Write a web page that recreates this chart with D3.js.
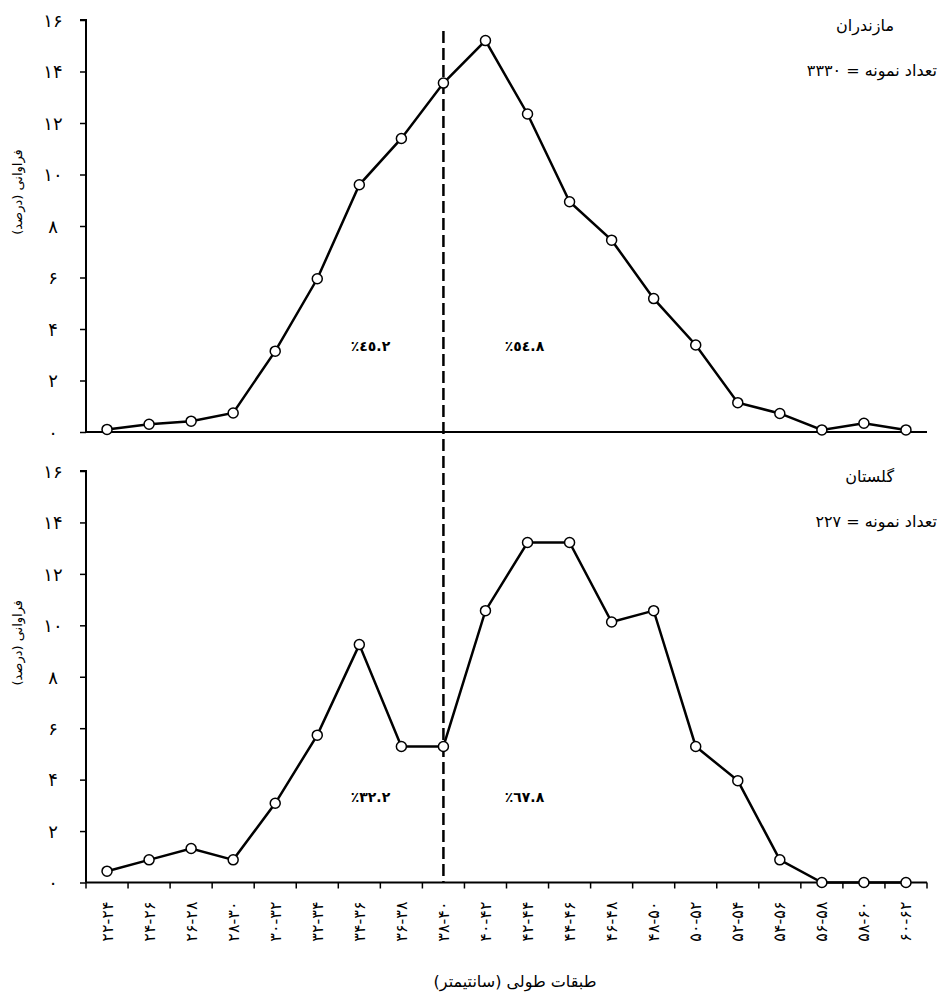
<!DOCTYPE html>
<html>
<head>
<meta charset="utf-8">
<script src="https://cdn.jsdelivr.net/npm/d3@7"></script>
<style>
  html, body { margin: 0; padding: 0; background: #fff; }
  svg { display: block; }
  text { font-family: "DejaVu Serif", "DejaVu Sans", serif; fill: #000; }
</style>
</head>
<body>
<svg id="chart" width="941" height="999"></svg>
<script>
// Length classes (cm), shown with Persian digits
const categories = [
  "۲۲-۲۴", "۲۴-۲۶", "۲۶-۲۸", "۲۸-۳۰", "۳۰-۳۲", "۳۲-۳۴", "۳۴-۳۶", "۳۶-۳۸", "۳۸-۴۰", "۴۰-۴۲",
  "۴۲-۴۴", "۴۴-۴۶", "۴۶-۴۸", "۴۸-۵۰", "۵۰-۵۲", "۵۲-۵۴", "۵۴-۵۶", "۵۶-۵۸", "۵۸-۶۰", "۶۰-۶۲"
];

// Frequency (percent) per length class
const mazandaran = [0.1, 0.3, 0.42, 0.74, 3.14, 5.95, 9.6, 11.4, 13.55, 15.2,
                    12.35, 8.94, 7.45, 5.18, 3.38, 1.14, 0.72, 0.08, 0.34, 0.08];
const golestan   = [0.44, 0.88, 1.32, 0.88, 3.08, 5.73, 9.25, 5.29, 5.29, 10.57,
                    13.22, 13.22, 10.13, 10.57, 5.29, 3.96, 0.88, 0, 0, 0];

const yTicks = [0, 2, 4, 6, 8, 10, 12, 14, 16];
const yTickLabels = ["۰", "۲", "۴", "۶", "۸", "۱۰", "۱۲", "۱۴", "۱۶"];

const regionNames = ["مازندران", "گلستان"];
const sampleSizes = ["۳۳۳۰", "۲۲۷"];
// share of fish below / above the split class, per region
const shareBelow = ["٪٤٥.٢", "٪۳۲.۲"];
const shareAbove = ["٪٥٤.٨", "٪٦٧.٨"];
const splitClass = "۳۸-۴۰";

const yTitle = "فراوانی (درصد)";
const xTitle = "طبقات طولی (سانتیمتر)";

// ---- layout ----
const svg = d3.select("#chart");
const left = 86, right = 927;
const panelsLayout = [
  { top: 20, bottom: 432, showTicks: false },
  { top: 471, bottom: 882.5, showTicks: true }
];
const seriesList = [mazandaran, golestan];

const x = d3.scaleBand().domain(categories).range([left, right]).padding(0);
const cx = d => x(d) + x.bandwidth() / 2;
const splitX = cx(splitClass);

const RLE = "\u202B", PDF = "\u202C", LRO = "\u202D";
const arabicFont = "'DejaVu Sans', sans-serif";

// split line across both panels
svg.append("line")
  .attr("x1", splitX).attr("x2", splitX)
  .attr("y1", 31).attr("y2", 882)
  .attr("stroke", "#000")
  .attr("stroke-width", 2.5)
  .attr("stroke-dasharray", "12,5");

panelsLayout.forEach((p, k) => {
  const values = seriesList[k];
  const y = d3.scaleLinear().domain([0, 16]).range([p.bottom, p.top]);
  const g = svg.append("g");

  // y axis
  const yAxis = d3.axisLeft(y).tickValues(yTicks).tickSize(6)
    .tickFormat((d, i) => yTickLabels[i]);
  const ya = g.append("g").attr("transform", `translate(${left},0)`).call(yAxis);
  ya.select(".domain").attr("stroke", "#000").attr("stroke-width", 2).attr("d", `M-6,${p.top}H0V${p.bottom}`);
  ya.selectAll(".tick line").attr("stroke", "#000").attr("stroke-width", 1.5);
  ya.selectAll(".tick text")
    .attr("x", -33).attr("text-anchor", "middle").attr("dy", "0.35em")
    .style("font-size", "18px").style("font-family", arabicFont);

  // x baseline
  g.append("line")
    .attr("x1", left).attr("x2", right)
    .attr("y1", p.bottom).attr("y2", p.bottom)
    .attr("stroke", "#000").attr("stroke-width", 2);

  if (p.showTicks) {
    const bounds = d3.range(categories.length + 1).map(i => left + i * x.step());
    g.selectAll("line.xtick").data(bounds).join("line")
      .attr("class", "xtick")
      .attr("x1", d => d).attr("x2", d => d)
      .attr("y1", p.bottom).attr("y2", p.bottom + 6)
      .attr("stroke", "#000").attr("stroke-width", 1.5);

    g.selectAll("text.xlab").data(categories).join("text")
      .attr("class", "xlab")
      .attr("transform", d => `translate(${cx(d)},${p.bottom + 19}) rotate(-90)`)
      .attr("text-anchor", "end")
      .attr("dominant-baseline", "central")
      .style("font-size", "16px").style("font-family", arabicFont)
      .style("letter-spacing", "1.5px")
      .text(d => LRO + d + PDF);
  }

  // y axis title
  g.append("text")
    .attr("transform", `translate(17,${(p.top + p.bottom) / 2 - 34}) rotate(-90)`)
    .attr("text-anchor", "middle")
    .attr("dominant-baseline", "central")
    .style("font-size", "13px").style("font-family", arabicFont)
    .text(RLE + yTitle + PDF);

  // region name and sample size
  g.append("text")
    .attr("x", 894).attr("y", p.top + 11)
    .attr("text-anchor", "end")
    .style("font-size", "16px").style("font-family", arabicFont)
    .text(RLE + regionNames[k] + PDF);
  g.append("text")
    .attr("x", 937).attr("y", p.top + 56)
    .attr("text-anchor", "end")
    .style("font-size", "16px").style("font-family", arabicFont)
    .text(RLE + "تعداد نمونه = " + sampleSizes[k] + PDF);

  // share on each side of the split
  g.append("text")
    .attr("x", splitX - 73).attr("y", p.bottom - 81)
    .attr("text-anchor", "middle")
    .style("font-size", "14px").style("font-weight", "bold").style("font-family", arabicFont)
    .text(LRO + shareBelow[k] + PDF);
  g.append("text")
    .attr("x", splitX + 81).attr("y", p.bottom - 81)
    .attr("text-anchor", "middle")
    .style("font-size", "14px").style("font-weight", "bold").style("font-family", arabicFont)
    .text(LRO + shareAbove[k] + PDF);

  // frequency polygon
  const line = d3.line().x((d, i) => cx(categories[i])).y(d => y(d));
  g.append("path")
    .datum(values)
    .attr("d", line)
    .attr("fill", "none")
    .attr("stroke", "#000")
    .attr("stroke-width", 2.5)
    .attr("stroke-linejoin", "miter");

  g.selectAll("circle").data(values).join("circle")
    .attr("cx", (d, i) => cx(categories[i]))
    .attr("cy", d => y(d))
    .attr("r", 5)
    .attr("fill", "#fff")
    .attr("stroke", "#000")
    .attr("stroke-width", 1.5);
});

// x axis title
svg.append("text")
  .attr("x", 515).attr("y", 987)
  .attr("text-anchor", "middle")
  .style("font-size", "16px").style("font-family", arabicFont)
  .text(RLE + xTitle + PDF);
</script>
</body>
</html>
